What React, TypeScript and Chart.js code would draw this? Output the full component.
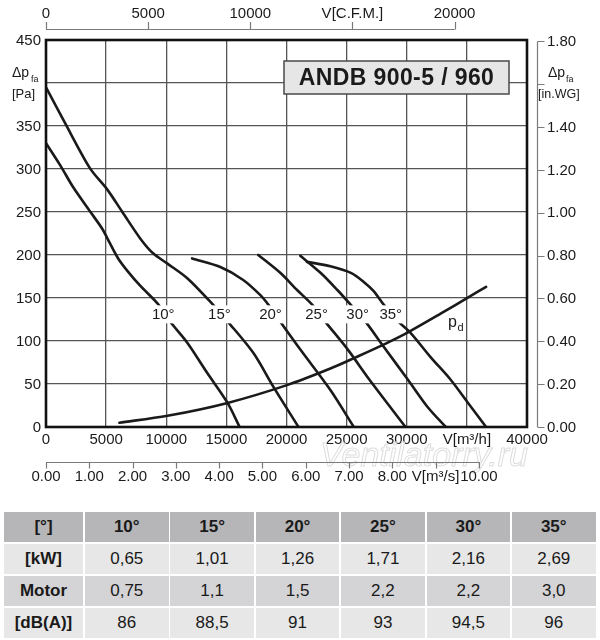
import React, { useEffect, useRef } from "react";
import { Chart, registerables } from "chart.js";

Chart.register(...registerables);

const FONT = '"Liberation Sans", Arial, Helvetica, sans-serif';
const INK = "#1a1a1a";

// ---- fan curves: V [m³/h] and Δp_fa [Pa] ----
const q10 = [0, 1200, 2250, 3700, 4700, 5300, 6000, 6800, 7850, 9250, 10350, 11750, 13400, 15100, 16100];
const p10 = [330, 304, 279, 250, 230, 214, 196, 181, 164, 144, 122, 98, 63, 28, 0];

const q15 = [0, 1600, 3650, 5100, 6350, 7850, 8900, 10100, 11750, 13900, 15150, 17250, 18900, 21000];
const p15 = [395, 353, 301, 276, 250, 219, 202, 190, 173, 142, 122, 86, 47, 0];

const q20 = [12150, 14500, 16400, 17850, 18500, 19500, 21150, 23650, 25600];
const p20 = [196, 186, 171, 153, 142, 122, 90, 43, 0];

const q25 = [17650, 19500, 20900, 22150, 23250, 25100, 26900, 29900];
const p25 = [200, 179, 159, 142, 122, 90, 55, 0];

const q30 = [21150, 22850, 24250, 25350, 26600, 28100, 30100, 31750, 33250];
const p30 = [199, 179, 159, 142, 122, 93, 55, 23, 0];

const q35 = [21700, 23650, 25400, 26400, 27250, 28100, 29350, 30350, 32000, 33650, 35100, 36600];
const p35 = [192, 187, 179, 169, 158, 142, 122, 109, 81, 55, 28, 0];

// dynamic pressure p_d
const qPd = [6100, 10100, 15100, 20100, 23650, 25750, 28250, 30100, 32850, 35150, 36600];
const pPd = [5, 13, 28, 49, 68, 81, 97, 110, 132, 151, 163];

const curveNames = ["10°", "15°", "20°", "25°", "30°", "35°"];
const curveQ = [q10, q15, q20, q25, q30, q35];
const curveP = [p10, p15, p20, p25, p30, p35];
// where each curve's label sits (data units)
const curveLabelQ = [9750, 14420, 18670, 22500, 25920, 28670];
const curveLabelP = [131, 131, 131, 131, 131, 131];
const pdLabelQ = 33800;
const pdLabelP = 121;

// ---- axes ----
const X_MAX = 40000;
const Y_MAX = 450;
const yTicks = [0, 50, 100, 150, 200, 250, 300, 350, 400, 450];
const yLabels = ["0", "50", "100", "150", "200", "250", "300", "350", "", "450"];
const xTicks = [0, 5000, 10000, 15000, 20000, 25000, 30000, 35000, 40000];
const xLabels = ["0", "5000", "10000", "15000", "20000", "25000", "30000", "V[m³/h]", "40000"];

const CFM_TO_M3H = 1.699;
const cfmTicks = [0, 5000, 10000, 15000, 20000];
const cfmLabels = ["0", "5000", "10000", "V[C.F.M.]", "20000"];

const INWG_TO_PA = 249.09;
const inwgTicks = [0, 0.2, 0.4, 0.6, 0.8, 1.0, 1.2, 1.4, 1.6, 1.8];
const inwgLabels = ["0.00", "0.20", "0.40", "0.60", "0.80", "1.00", "1.20", "1.40", "", "1.80"];

const M3S_TO_M3H = 3600;
const m3sTicks = [0, 1, 2, 3, 4, 5, 6, 7, 8, 9, 10];
const m3sLabels = ["0.00", "1.00", "2.00", "3.00", "4.00", "5.00", "6.00", "7.00", "8.00", "V[m³/s]", "10.00"];

const TITLE = "ANDB 900-5 / 960";

// ---- table ----
const tableHead = ["[°]", "10°", "15°", "20°", "25°", "30°", "35°"];
const rowNames = ["[kW]", "Motor", "[dB(A)]"];
const kW = ["0,65", "1,01", "1,26", "1,71", "2,16", "2,69"];
const motor = ["0,75", "1,1", "1,5", "2,2", "2,2", "3,0"];
const dBA = ["86", "88,5", "91", "93", "94,5", "96"];

const CANVAS_W = 600;
const CANVAS_H = 505;

function txt(ctx: CanvasRenderingContext2D, t: string, x: number, y: number, font: string, align: CanvasTextAlign = "center", color = INK) {
  ctx.font = font;
  ctx.textAlign = align;
  ctx.textBaseline = "middle";
  ctx.fillStyle = color;
  ctx.fillText(t, x, y);
}

const annotPlugin = {
  id: "annot",
  afterDatasetsDraw(chart: any) {
    const { ctx, scales } = chart;
    const x = scales.x;
    const y = scales.y;
    ctx.save();
    curveNames.forEach((t, i) => {
      const px = x.getPixelForValue(curveLabelQ[i]);
      const py = y.getPixelForValue(curveLabelP[i]);
      ctx.font = `15px ${FONT}`;
      const w = ctx.measureText(t).width;
      ctx.fillStyle = "#fff";
      ctx.fillRect(px - w / 2 - 2, py - 9, w + 4, 18);
      txt(ctx, t, px, py + 1, `15px ${FONT}`);
    });
    // p_d label
    const dx = x.getPixelForValue(pdLabelQ);
    const dy = y.getPixelForValue(pdLabelP);
    txt(ctx, "p", dx, dy, `16px ${FONT}`, "center");
    txt(ctx, "d", dx + 8, dy + 5, `11px ${FONT}`, "center");
    ctx.restore();
  },
  afterDraw(chart: any) {
    const { ctx, chartArea: a, scales } = chart;
    const x = scales.x;
    const y = scales.y;
    ctx.save();

    // frame
    ctx.strokeStyle = "#111";
    ctx.lineWidth = 2.6;
    ctx.strokeRect(a.left, a.top, a.right - a.left, a.bottom - a.top);

    // title box
    ctx.fillStyle = "#e6e6e6";
    ctx.fillRect(284, 61, 225, 33);
    ctx.strokeStyle = "#4a4a4a";
    ctx.lineWidth = 1.5;
    ctx.strokeRect(284, 61, 225, 33);
    (ctx as any).letterSpacing = "0.4px";
    txt(ctx, TITLE, 396.5, 78.5, `bold 23px ${FONT}`);
    (ctx as any).letterSpacing = "0px";

    const f15 = `15px ${FONT}`;
    // left axis labels
    yTicks.forEach((v, i) => {
      if (yLabels[i]) txt(ctx, yLabels[i], 41, y.getPixelForValue(v) + 0.5, f15, "right");
    });
    txt(ctx, "Δp", 12, 73, `14px ${FONT}`, "left");
    txt(ctx, "fa", 31, 80, `9px ${FONT}`, "left");
    txt(ctx, "[Pa]", 12, 94, `13px ${FONT}`, "left");

    // bottom m³/h labels
    xTicks.forEach((v, i) => {
      txt(ctx, xLabels[i], x.getPixelForValue(v), 440, f15);
    });

    // watermark
    ctx.font = `italic 34px ${FONT}`;
    ctx.textAlign = "center";
    ctx.textBaseline = "middle";
    ctx.strokeStyle = "#dddddd";
    ctx.lineWidth = 1;
    ctx.strokeText("Ventilatorry.ru", 424, 457);

    ctx.strokeStyle = "#7a7a7a";
    ctx.lineWidth = 1.2;

    // top CFM axis
    const cx0 = x.getPixelForValue(cfmTicks[0] * CFM_TO_M3H);
    const cx1 = x.getPixelForValue(cfmTicks[cfmTicks.length - 1] * CFM_TO_M3H);
    ctx.beginPath();
    ctx.moveTo(cx0, 29.5);
    ctx.lineTo(cx1, 29.5);
    cfmTicks.forEach((v) => {
      const px = Math.round(x.getPixelForValue(v * CFM_TO_M3H)) + 0.5;
      ctx.moveTo(px, 29.5);
      ctx.lineTo(px, 22);
    });
    ctx.stroke();
    cfmTicks.forEach((v, i) => {
      txt(ctx, cfmLabels[i], x.getPixelForValue(v * CFM_TO_M3H), 14, f15);
    });

    // right in.WG axis
    const rx = 537.5;
    ctx.beginPath();
    ctx.moveTo(rx, y.getPixelForValue(inwgTicks[inwgTicks.length - 1] * INWG_TO_PA));
    ctx.lineTo(rx, y.getPixelForValue(0));
    inwgTicks.forEach((v) => {
      const py = Math.round(y.getPixelForValue(v * INWG_TO_PA)) + 0.5;
      ctx.moveTo(rx, py);
      ctx.lineTo(rx + 7, py);
    });
    ctx.stroke();
    inwgTicks.forEach((v, i) => {
      if (inwgLabels[i]) txt(ctx, inwgLabels[i], 547, y.getPixelForValue(v * INWG_TO_PA) + 0.5, f15, "left");
    });
    txt(ctx, "Δp", 548, 73, `14px ${FONT}`, "left");
    txt(ctx, "fa", 566, 80, `9px ${FONT}`, "left");
    txt(ctx, "[in.WG]", 538, 95, `12.5px ${FONT}`, "left");

    // bottom m³/s axis
    const sy = 462.5;
    ctx.beginPath();
    ctx.moveTo(x.getPixelForValue(0), sy);
    ctx.lineTo(x.getPixelForValue(m3sTicks[m3sTicks.length - 1] * M3S_TO_M3H) + 1, sy);
    m3sTicks.forEach((v) => {
      const px = Math.round(x.getPixelForValue(v * M3S_TO_M3H)) + 0.5;
      ctx.moveTo(px, sy);
      ctx.lineTo(px, sy + 6);
    });
    ctx.stroke();
    m3sTicks.forEach((v, i) => {
      txt(ctx, m3sLabels[i], x.getPixelForValue(v * M3S_TO_M3H), 477, f15);
    });

    ctx.restore();
  },
};

function toPoints(qs: number[], ps: number[]) {
  return qs.map((q, i) => ({ x: q, y: ps[i] }));
}

export default function App() {
  const ref = useRef<HTMLCanvasElement>(null);

  useEffect(() => {
    const lineStyle = {
      borderColor: INK,
      borderWidth: 2.6,
      pointRadius: 0,
      fill: false,
      tension: 0.3,
      borderCapStyle: "round" as const,
      borderJoinStyle: "round" as const,
    };
    const datasets: any[] = [
      { label: "pd", data: toPoints(qPd, pPd), ...lineStyle },
      ...curveNames.map((n, i) => ({ label: n, data: toPoints(curveQ[i], curveP[i]), ...lineStyle })),
    ];
    const chart = new Chart(ref.current!, {
      type: "line",
      data: { datasets },
      options: {
        animation: false,
        responsive: false,
        devicePixelRatio: window.devicePixelRatio || 1,
        layout: { padding: { left: 46, top: 40, right: CANVAS_W - 527, bottom: CANVAS_H - 427 } },
        plugins: { legend: { display: false }, tooltip: { enabled: false } },
        scales: {
          x: {
            type: "linear",
            min: 0,
            max: X_MAX,
            ticks: { display: false, stepSize: 5000 },
            grid: { color: "#555", lineWidth: 1.3, drawTicks: false },
            border: { display: false },
            afterFit: (s: any) => {
              s.height = 0;
            },
          },
          y: {
            type: "linear",
            min: 0,
            max: Y_MAX,
            ticks: { display: false, stepSize: 50 },
            grid: { color: "#555", lineWidth: 1.3, drawTicks: false },
            border: { display: false },
            afterFit: (s: any) => {
              s.width = 0;
            },
          },
        },
      } as any,
      plugins: [annotPlugin],
    });
    return () => chart.destroy();
  }, []);

  const colLeft = (c: number) => (c === 0 ? 4 : 85 + (c - 1) * 85.4);
  const colWidth = (c: number) => (c === 0 ? 79 : 83.5);
  const rows = [tableHead, [rowNames[0], ...kW], [rowNames[1], ...motor], [rowNames[2], ...dBA]];
  const rowBg = ["#b6b6b8", "#e7e7e7", "#d4d4d6", "#e7e7e7"];

  return (
    <div
      style={{
        position: "absolute",
        left: 0,
        top: 0,
        width: 600,
        height: 640,
        background: "#fff",
        fontFamily: FONT,
        overflow: "hidden",
      }}
    >
      <canvas
        ref={ref}
        width={CANVAS_W}
        height={CANVAS_H}
        style={{ position: "absolute", left: 0, top: 0, width: CANVAS_W, height: CANVAS_H }}
      />
      {rows.map((row, r) =>
        row.map((cell, c) => (
          <div
            key={`${r}-${c}`}
            style={{
              position: "absolute",
              left: colLeft(c),
              top: 512 + r * 32,
              width: colWidth(c),
              height: 30,
              background: rowBg[r],
              display: "flex",
              alignItems: "center",
              justifyContent: "center",
              fontSize: 17,
              fontWeight: r === 0 || c === 0 ? "bold" : "normal",
              color: INK,
            }}
          >
            {cell}
          </div>
        ))
      )}
    </div>
  );
}
